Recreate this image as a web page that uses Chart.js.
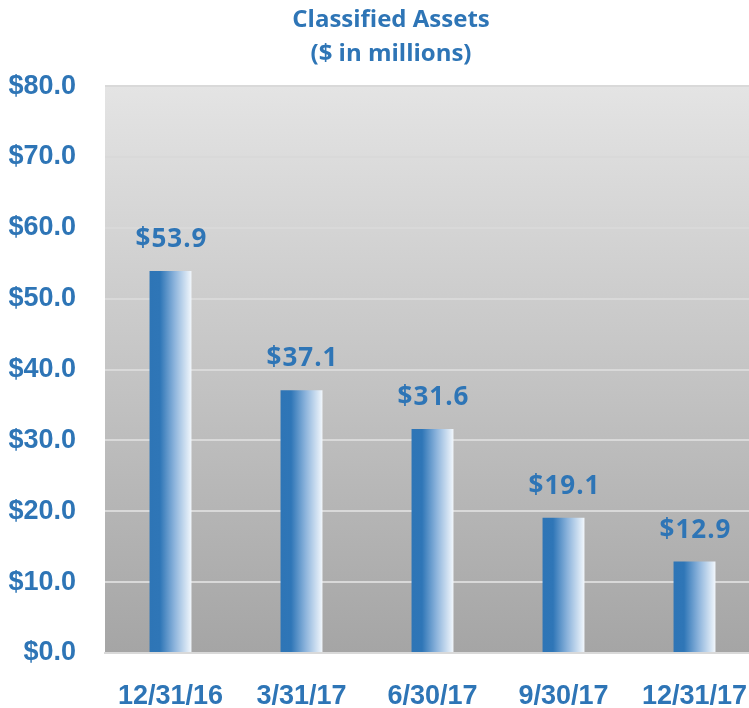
<!DOCTYPE html>
<html>
<head>
<meta charset="utf-8">
<script src="https://cdn.jsdelivr.net/npm/chart.js@4"></script>
<style>
html,body{margin:0;padding:0;background:#fff;overflow:hidden;}
canvas{display:block;}
</style>
</head>
<body>
<canvas id="c" width="780" height="708"></canvas>
<script>
const categories = ['12/31/16', '3/31/17', '6/30/17', '9/30/17', '12/31/17'];
const values = [53.9, 37.1, 31.6, 19.1, 12.9];
const titleLines = ['Classified Assets', '($ in millions)'];
const yMin = 0, yMax = 80, yStep = 10;

const BLUE = '#2E75B6';
const axisFont = "'Liberation Sans', Arial, sans-serif";

const bgPlugin = {
  id: 'bg',
  afterLayout(chart) {
    if (chart.titleBlock) {
      chart.titleBlock.left = 22;
      chart.titleBlock.width = chart.titleBlock.right - 22;
    }
  },
  beforeDraw(chart) {
    const {ctx, chartArea: a} = chart;
    const g = ctx.createLinearGradient(0, a.top, 0, a.bottom);
    g.addColorStop(0, '#E4E4E4');
    g.addColorStop(1, '#A5A5A5');
    ctx.save();
    ctx.fillStyle = g;
    ctx.fillRect(a.left, a.top, a.right - a.left, a.bottom - a.top);
    ctx.restore();
  }
};

const labelPlugin = {
  id: 'vlabels',
  afterDatasetsDraw(chart) {
    const {ctx} = chart;
    const meta = chart.getDatasetMeta(0);
    ctx.save();
    ctx.fillStyle = BLUE;
    ctx.font = "bold 26px 'Open Sans', sans-serif";
    ctx.textAlign = 'center';
    ctx.textBaseline = 'alphabetic';
    try { ctx.letterSpacing = '1px'; } catch (e) {}
    meta.data.forEach((bar, i) => {
      ctx.fillText('$' + values[i].toFixed(1), bar.x + 1, bar.y - 24);
    });
    ctx.restore();
  }
};

function barFill(context) {
  const chart = context.chart;
  const xs = chart.scales && chart.scales.x;
  if (!xs || !chart.chartArea) return BLUE;
  const cx = xs.getPixelForValue(context.dataIndex);
  const w = (xs.width / categories.length) * 0.32;
  const g = chart.ctx.createLinearGradient(cx - w / 2, 0, cx + w / 2, 0);
  g.addColorStop(0, '#2E75B6');
  g.addColorStop(0.25, '#2F76B7');
  g.addColorStop(0.6, '#8DB4DC');
  g.addColorStop(1, '#F2F7FC');
  return g;
}

new Chart(document.getElementById('c'), {
  type: 'bar',
  data: {
    labels: categories,
    datasets: [{
      data: values,
      backgroundColor: barFill,
      borderWidth: 0,
      barPercentage: 0.32,
      categoryPercentage: 1.0
    }]
  },
  options: {
    responsive: false,
    animation: false,
    layout: { padding: { left: 0, right: 20, top: 0, bottom: 0 } },
    plugins: {
      legend: { display: false },
      tooltip: { enabled: false },
      title: {
        display: true,
        text: titleLines,
        color: BLUE,
        font: { family: "'Open Sans', sans-serif", size: 24, weight: 'bold', lineHeight: 1.42 },
        padding: { top: 3, bottom: 15 }
      }
    },
    scales: {
      x: {
        grid: { display: false, drawTicks: false },
        border: { display: true, color: '#D9D9D9', width: 2 },
        ticks: {
          color: BLUE,
          padding: 27,
          maxRotation: 0,
          minRotation: 0,
          autoSkip: false,
          font: { family: axisFont, size: 27, weight: 'bold' }
        },
        afterFit(s) { s.height = 55; }
      },
      y: {
        min: yMin, max: yMax,
        grid: { color: '#D9D9D9', lineWidth: 2, drawTicks: false },
        border: { display: false },
        ticks: {
          stepSize: yStep,
          color: BLUE,
          padding: 29,
          font: { family: axisFont, size: 27, weight: 'bold' },
          callback: v => '$' + Number(v).toFixed(1)
        },
        afterFit(s) { s.width = 105; }
      }
    }
  },
  plugins: [bgPlugin, labelPlugin]
});
</script>
</body>
</html>
